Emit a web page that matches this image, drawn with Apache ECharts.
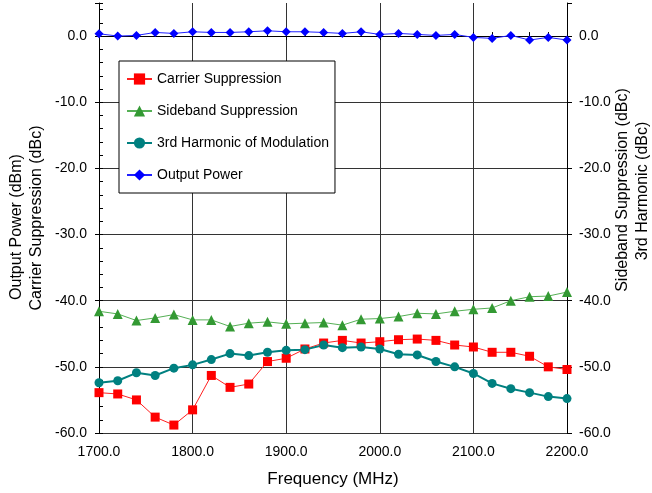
<!DOCTYPE html>
<html>
<head>
<meta charset="utf-8">
<script src="https://cdn.jsdelivr.net/npm/echarts@6/dist/echarts.min.js"></script>
<style>html,body{margin:0;padding:0;background:#fff}#c{width:652px;height:493px}</style>
</head>
<body>
<div id="c"></div>
<script>
var frequencies = [1700,1720,1740,1760,1780,1800,1820,1840,1860,1880,1900,1920,1940,1960,1980,2000,2020,2040,2060,2080,2100,2120,2140,2160,2180,2200];
var carrierSuppression = [-53.9,-54.1,-55.0,-57.6,-58.8,-56.5,-51.3,-53.1,-52.6,-49.2,-48.7,-47.3,-46.4,-46.0,-46.4,-46.2,-45.9,-45.8,-46.0,-46.7,-47.0,-47.8,-47.8,-48.4,-50.0,-50.4];
var sidebandSuppression = [-41.6,-42.0,-43.0,-42.6,-42.1,-42.9,-42.9,-43.9,-43.4,-43.2,-43.5,-43.4,-43.3,-43.7,-42.8,-42.7,-42.4,-41.9,-42.0,-41.6,-41.3,-41.1,-40.0,-39.4,-39.3,-38.7];
var thirdHarmonic = [-52.4,-52.1,-50.9,-51.3,-50.2,-49.7,-48.9,-48.0,-48.3,-47.8,-47.5,-47.4,-46.7,-47.1,-47.0,-47.3,-48.1,-48.2,-49.2,-50.0,-51.0,-52.5,-53.3,-53.9,-54.5,-54.8];
var outputPower = [0.35,0.0,0.1,0.55,0.4,0.65,0.55,0.55,0.65,0.8,0.65,0.65,0.55,0.4,0.65,0.25,0.4,0.25,0.1,0.25,-0.2,-0.35,0.1,-0.6,-0.2,-0.6];
var seriesNames = ['Carrier Suppression','Sideband Suppression','3rd Harmonic of Modulation','Output Power'];

function pairs(vals){ return frequencies.map(function(f,i){ return [f, vals[i]]; }); }

var FONT = 'Liberation Sans, Arial, Helvetica, sans-serif';
var chart = echarts.init(document.getElementById('c'), null, {renderer:'canvas'});
var gridColor = '#333';
function yLab(v){ return v > 0.01 ? '' : v.toFixed(1); }

var option = {
  animation: false,
  backgroundColor: '#fff',
  textStyle: {fontFamily: FONT},
  grid: {left: 99, right: 85, top: 3, bottom: 59, containLabel: false},
  legend: {
    orient: 'vertical', left: 119, top: 61,
    backgroundColor: '#fff', borderColor: '#000', borderWidth: 1,
    padding: [11, 6, 11, 7], itemWidth: 25, itemHeight: 14, itemGap: 18,
    textStyle: {fontSize: 14, color: '#000', fontFamily: FONT},
    data: seriesNames
  },
  xAxis: [{
    type: 'value', min: 1700, max: 2200, interval: 100, position: 'bottom',
    axisLine: {show: true, lineStyle: {color: '#000', width: 1}},
    axisTick: {show: true, inside: false, length: 4, lineStyle: {color: '#000'}},
    axisLabel: {fontSize: 14, color: '#000', margin: 12, fontFamily: FONT, formatter: function(v){ return v.toFixed(1); }},
    splitLine: {show: true, lineStyle: {color: gridColor, width: 1}},
    name: 'Frequency (MHz)', nameLocation: 'middle', nameGap: 38,
    nameTextStyle: {fontSize: 17, color: '#000', fontFamily: FONT}
  },{
    type: 'value', min: 1700, max: 2200, interval: 100, position: 'bottom',
    axisLine: {show: false},
    axisTick: {show: true, inside: true, length: 4, lineStyle: {color: '#000'}},
    minorTick: {show: true, splitNumber: 5, length: 4, lineStyle: {color: '#000'}},
    axisLabel: {show: false}, splitLine: {show: false}
  }],
  yAxis: [{
    type: 'value', min: -60, max: 5, interval: 10, position: 'left',
    axisLine: {show: true, lineStyle: {color: '#000', width: 1}},
    axisTick: {show: true, inside: false, length: 4, lineStyle: {color: '#000'}},
    axisLabel: {fontSize: 14, color: '#000', margin: 12, fontFamily: FONT, formatter: yLab},
    splitLine: {show: true, lineStyle: {color: [gridColor,gridColor,gridColor,gridColor,gridColor,gridColor,gridColor,'rgba(0,0,0,0)'], width: 1}}
  },{
    type: 'value', min: -60, max: 5, interval: 10, position: 'left',
    axisLine: {show: false},
    axisTick: {show: true, inside: true, length: 4, lineStyle: {color: '#000'}},
    minorTick: {show: true, splitNumber: 5, length: 4, lineStyle: {color: '#000'}},
    axisLabel: {show: false}, splitLine: {show: false}
  },{
    type: 'value', min: -60, max: 5, interval: 10, position: 'right',
    axisLine: {show: true, lineStyle: {color: '#000', width: 1}},
    axisTick: {show: true, inside: false, length: 5, lineStyle: {color: '#000'}},
    axisLabel: {fontSize: 14, color: '#000', margin: 12, fontFamily: FONT, formatter: yLab},
    splitLine: {show: false}
  }],
  graphic: [
    {type:'text', x:17, y:227, rotation: Math.PI/2, style:{text:'Output Power (dBm)', font:'16px ' + FONT, align:'center', verticalAlign:'middle', fill:'#000'}},
    {type:'text', x:37, y:218, rotation: Math.PI/2, style:{text:'Carrier Suppression (dBc)', font:'16px ' + FONT, align:'center', verticalAlign:'middle', fill:'#000'}},
    {type:'text', x:623, y:190, rotation: Math.PI/2, style:{text:'Sideband Suppression (dBc)', font:'16px ' + FONT, align:'center', verticalAlign:'middle', fill:'#000'}},
    {type:'text', x:643, y:191, rotation: Math.PI/2, style:{text:'3rd Harmonic (dBc)', font:'16px ' + FONT, align:'center', verticalAlign:'middle', fill:'#000'}}
  ],
  series: [
    {name: seriesNames[0], type: 'line', xAxisIndex: 0, yAxisIndex: 0, data: pairs(carrierSuppression),
     symbol: 'rect', symbolSize: 9, color: '#ff0000', lineStyle: {color: '#ff2020', width: 1}, itemStyle: {color: '#ff0000'}, z: 3},
    {name: seriesNames[1], type: 'line', xAxisIndex: 0, yAxisIndex: 2, data: pairs(sidebandSuppression),
     symbol: 'triangle', symbolSize: 10, color: '#339933', lineStyle: {color: '#55b055', width: 1}, itemStyle: {color: '#339933'}, z: 3},
    {name: seriesNames[2], type: 'line', xAxisIndex: 0, yAxisIndex: 2, data: pairs(thirdHarmonic),
     symbol: 'circle', symbolSize: 9, color: '#008080', lineStyle: {color: '#008080', width: 2}, itemStyle: {color: '#008080'}, z: 3},
    {name: seriesNames[3], type: 'line', xAxisIndex: 0, yAxisIndex: 0, data: pairs(outputPower),
     symbol: 'diamond', symbolSize: 9, color: '#0000ff', lineStyle: {color: '#2020ff', width: 1}, itemStyle: {color: '#0000ff'}, z: 3}
  ]
};
chart.setOption(option);
</script>
</body>
</html>
